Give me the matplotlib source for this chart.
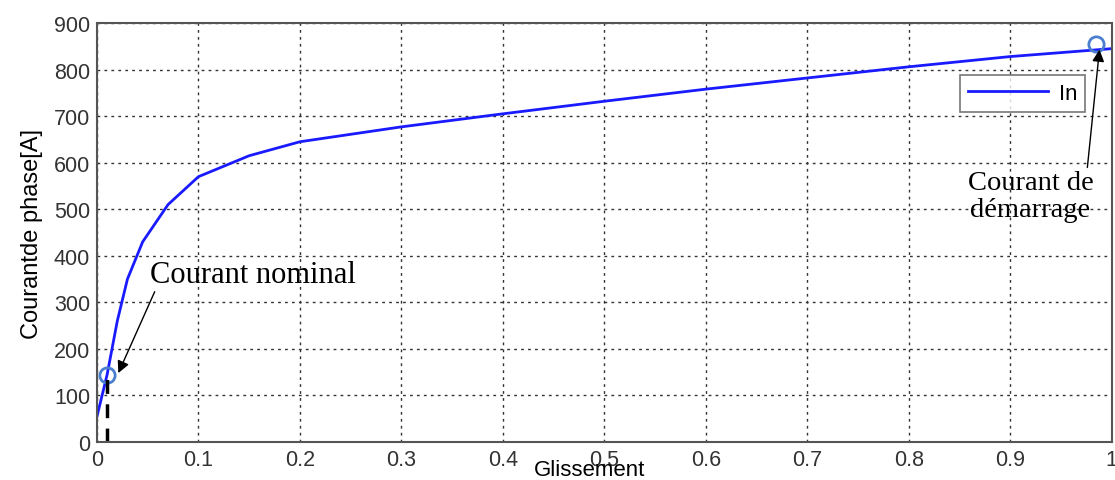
import numpy as np
import matplotlib.pyplot as plt

plt.rcParams['font.family'] = ['Liberation Sans', 'DejaVu Sans']

# Glissement vs courant de phase
glissement = [0.0, 0.01, 0.02, 0.03, 0.045, 0.07, 0.1, 0.15, 0.2, 0.3, 0.4, 0.5, 0.6, 0.7, 0.8, 0.9, 1.0]
courant = [55, 145, 260, 350, 430, 510, 570, 615, 645, 677, 705, 732, 758, 782, 806, 828, 845]

# points marqués
g_nominal, i_nominal = 0.01, 145
g_demarrage, i_demarrage = 0.985, 855

fig = plt.figure(figsize=(11.15, 4.81), dpi=100)
ax = fig.add_axes([0.087, 0.079, 0.91, 0.871])

ax.plot(glissement, courant, color='#1a1aff', lw=2, label='In')
ax.plot([g_nominal, g_demarrage], [i_nominal, i_demarrage], 'o', ms=11, mfc='none',
        mec='#4a7fd0', mew=2)
ax.plot([g_nominal, g_nominal], [0, i_nominal], color='black', lw=2.5, ls=(0, (4, 3)))

ax.set_xlim(0, 1)
ax.set_ylim(0, 900)
ax.set_xticks(np.arange(0, 1.01, 0.1))
ax.set_xticklabels(['0', '0.1', '0.2', '0.3', '0.4', '0.5', '0.6', '0.7', '0.8', '0.9', '1'])
ax.set_yticks(np.arange(0, 901, 100))
ax.grid(True, color='#333333', ls=(0, (2, 3)), lw=1)
ax.tick_params(labelsize=15.5, labelcolor='#333333', direction='in', length=0, pad=5)
for s in ax.spines.values():
    s.set_color('#555555')
    s.set_linewidth(1.5)

ax.set_xlabel('Glissement', fontsize=16, labelpad=-8, x=0.485)
ax.set_ylabel('Courantde phase[A]', fontsize=17, labelpad=8)

ax.annotate('Courant nominal', xy=(0.021, 148), xytext=(0.052, 360),
            va='center', ha='left', family='Liberation Serif', fontsize=22,
            arrowprops=dict(arrowstyle='-|>', color='black', lw=1, mutation_scale=18,
                            shrinkA=0, shrinkB=0, relpos=(0.03, 0)))
ax.annotate('Courant de\ndémarrage', xy=(0.988, 843), xytext=(0.92, 528),
            va='center', ha='center', linespacing=1.1, family='Liberation Serif', fontsize=20.5,
            arrowprops=dict(arrowstyle='-|>', color='black', lw=1, mutation_scale=18,
                            shrinkA=0, shrinkB=0, relpos=(0.95, 1.0)))

leg = ax.legend(loc='upper right', bbox_to_anchor=(0.985, 0.902), fontsize=16, fancybox=False,
                edgecolor='#555555', handlelength=3.6, borderpad=0.35, handletextpad=0.5)
leg.get_frame().set_linewidth(1.2)

fig.savefig('out.png', dpi=100)
